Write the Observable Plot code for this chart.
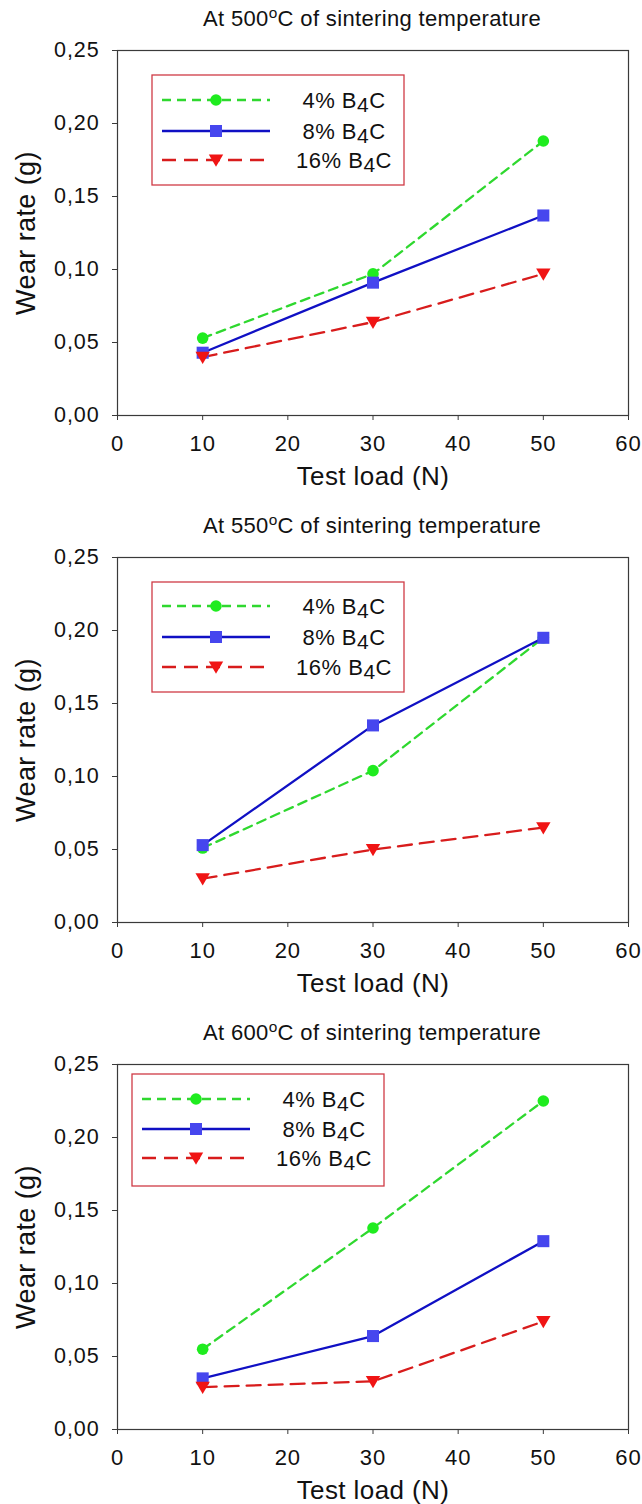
<!DOCTYPE html>
<html>
<head>
<meta charset="utf-8">
<script src="https://cdn.jsdelivr.net/npm/d3@7"></script>
<script src="https://cdn.jsdelivr.net/npm/@observablehq/plot@0.6"></script>
<style>
  html, body { margin: 0; padding: 0; background: #fff; }
  #root { position: relative; width: 642px; height: 1504px; background: #fff; overflow: hidden;
          font-family: "Liberation Sans", Arial, sans-serif; color: #111; }
  .title { position: absolute; left: 116px; width: 512px; height: 38px; line-height: 38px;
           text-align: center; font-size: 22px; letter-spacing: 0.35px; }
  .title sup { font-size: 0.7em; vertical-align: 0; position: relative; top: -0.55em; }
  .panel { position: absolute; left: 0; }
  .legend { position: absolute; }
  .wear g[aria-label="x-axis tick label"] text,
  .wear g[aria-label="y-axis tick label"] text { letter-spacing: 0.9px; }
  .wear g[aria-label="text"] text { letter-spacing: 0.4px; }
</style>
</head>
<body>
<div id="root"></div>
<script>
// ---- data ----
const loads = [10, 30, 50];
const temperatures = [500, 550, 600];
const seriesNames = ["4% B4C", "8% B4C", "16% B4C"];
const xTicks = [0, 10, 20, 30, 40, 50, 60];
const yTicks = [0, 0.05, 0.10, 0.15, 0.20, 0.25];

const w500_4  = [0.053, 0.097, 0.188];
const w500_8  = [0.043, 0.091, 0.137];
const w500_16 = [0.040, 0.064, 0.097];

const w550_4  = [0.051, 0.104, 0.195];
const w550_8  = [0.053, 0.135, 0.195];
const w550_16 = [0.030, 0.050, 0.065];

const w600_4  = [0.055, 0.138, 0.225];
const w600_8  = [0.035, 0.064, 0.129];
const w600_16 = [0.029, 0.033, 0.074];

const panelData = [
  [w500_4, w500_8, w500_16],
  [w550_4, w550_8, w550_16],
  [w600_4, w600_8, w600_16]
];

// ---- styles ----
const triDown = {
  draw(context, size) {
    const r = Math.sqrt(size / Math.PI);
    context.moveTo(-r, -0.75 * r);
    context.lineTo(r, -0.75 * r);
    context.lineTo(0, 0.95 * r);
    context.closePath();
  }
};
const styles = [
  {line: "#2fd82f", fill: "#1fec1f", dash: "9,6", symbol: "circle", r: 5.8, legendSym: d3.symbolCircle},
  {line: "#1010c4", fill: "#4646ee", dash: null, symbol: "square", r: 6.8, legendSym: d3.symbolSquare},
  {line: "#d81c1c", fill: "#f01414", dash: "14,8", symbol: triDown, r: 7.2, legendSym: triDown}
];
const legendPos = [
  {left: 152, top: 25, rows: [25, 56, 85], h: 110},
  {left: 152, top: 25, rows: [24, 55, 85], h: 110},
  {left: 132, top: 10, rows: [25, 55, 84], h: 112}
];

const root = document.getElementById("root");
const PANEL_STEP = 507;
const fmt = d => d.toFixed(2).replace(".", ",");
const fontFamily = "'Liberation Sans', Arial, sans-serif";

temperatures.forEach((temp, i) => {
  const top0 = i * PANEL_STEP;
  // title
  const t = document.createElement("div");
  t.className = "title";
  t.style.top = top0 + "px";
  t.innerHTML = `At ${temp}<sup>o</sup>C of sintering temperature`;
  root.appendChild(t);

  const rows = [];
  panelData[i].forEach((vals, s) => {
    loads.forEach((L, k) => rows.push({series: seriesNames[s], s, load: L, wear: vals[k]}));
  });

  const marks = [
    Plot.frame({stroke: "#3a3a3a", strokeWidth: 1.2}),
    Plot.axisX({ticks: xTicks, tickSize: 5, tickPadding: 15, fontSize: 22, label: null,
                stroke: "#3a3a3a", tickFormat: d => String(d)}),
    Plot.axisY({ticks: yTicks, tickSize: 5, tickPadding: 13, fontSize: 21.5, label: null,
                stroke: "#3a3a3a", tickFormat: fmt})
  ];
  styles.forEach((st, s) => {
    const d = rows.filter(r => r.s === s);
    marks.push(Plot.line(d, {x: "load", y: "wear", stroke: st.line, strokeWidth: 2.3,
      strokeDasharray: st.dash || undefined}));
  });
  styles.forEach((st, s) => {
    const d = rows.filter(r => r.s === s);
    marks.push(Plot.dot(d, {x: "load", y: "wear", fill: st.fill, stroke: "none",
      symbol: st.symbol, r: st.r}));
  });
  marks.push(Plot.text(["Wear rate (g)"], {frameAnchor: "left", dx: -91, rotate: -90,
    textAnchor: "middle", lineAnchor: "middle", fontSize: 27, text: d => d, fill: "#111"}));
  marks.push(Plot.text(["Test load (N)"], {frameAnchor: "bottom", dy: 61,
    textAnchor: "middle", lineAnchor: "middle", fontSize: 26, text: d => d, fill: "#111"}));

  const chart = Plot.plot({
    className: "wear",
    width: 642, height: 470,
    marginLeft: 117, marginRight: 14, marginTop: 18, marginBottom: 87,
    style: {fontFamily, fontSize: "21px", background: "transparent", color: "#111", overflow: "visible"},
    x: {domain: [0, 60]},
    y: {domain: [0, 0.25]},
    marks
  });
  const wrap = document.createElement("div");
  wrap.className = "panel";
  wrap.style.top = (top0 + 32) + "px";
  wrap.appendChild(chart);
  root.appendChild(wrap);

  // legend (inside plot frame; frame top is at top0 + 50)
  const lp = legendPos[i];
  const lw = 252, lh = lp.h;
  const lg = d3.create("svg")
    .attr("class", "legend")
    .attr("width", lw + 2).attr("height", lh + 2)
    .style("left", (lp.left - 1) + "px")
    .style("top", (top0 + 50 + lp.top - 1) + "px")
    .style("font-family", fontFamily);
  lg.append("rect").attr("x", 1).attr("y", 1).attr("width", lw).attr("height", lh)
    .attr("fill", "#fff").attr("stroke", "#cf3b46").attr("stroke-width", 1.3);
  styles.forEach((st, s) => {
    const y = lp.rows[s] + 1;
    lg.append("line").attr("x1", 11).attr("x2", 119).attr("y1", y).attr("y2", y)
      .attr("stroke", st.line).attr("stroke-width", 2.3)
      .attr("stroke-dasharray", st.dash || null);
    lg.append("path")
      .attr("transform", `translate(65,${y})`)
      .attr("d", d3.symbol(st.legendSym, st.r * st.r * Math.PI)())
      .attr("fill", st.fill);
    const parts = seriesNames[s].split("4C");
    const tx = lg.append("text").attr("x", 193).attr("y", y).attr("dy", "0.36em")
      .attr("text-anchor", "middle").attr("font-size", 22).attr("letter-spacing", "0.5px")
      .attr("fill", "#111");
    tx.append("tspan").text(parts[0]);
    tx.append("tspan").attr("dy", 4).attr("font-size", 21).text("4");
    tx.append("tspan").attr("dy", -4).text("C");
  });
  root.appendChild(lg.node());
});
</script>
</body>
</html>
